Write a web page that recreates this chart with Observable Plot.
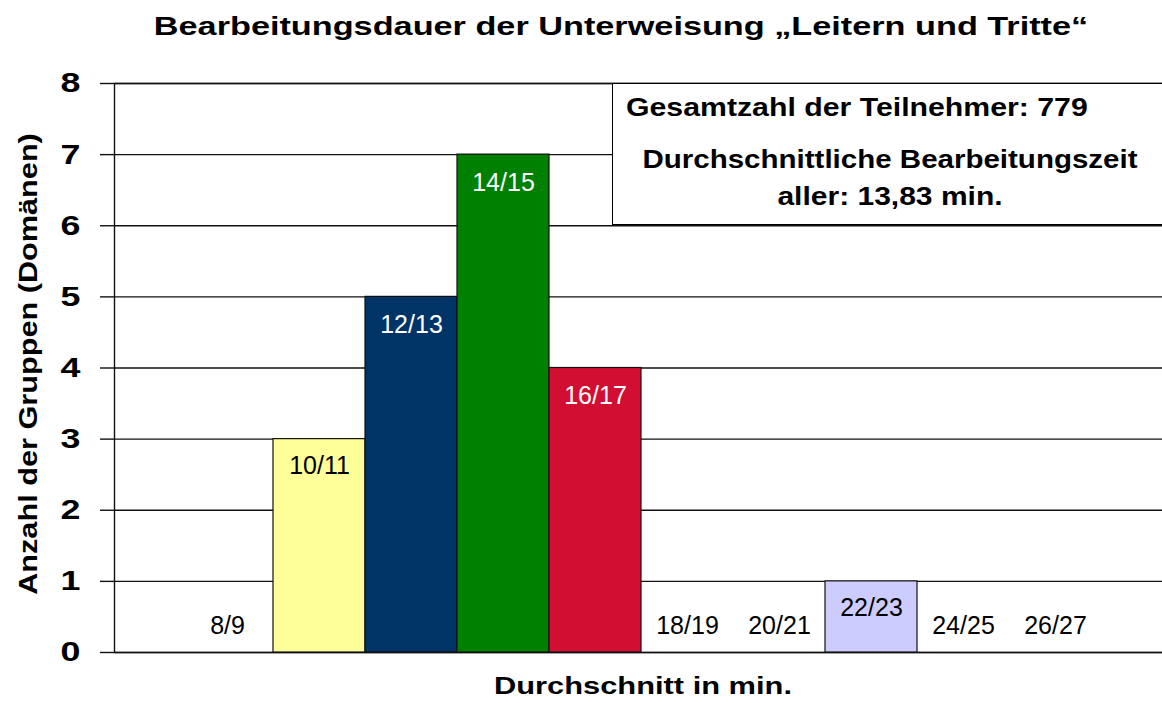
<!DOCTYPE html>
<html><head><meta charset="utf-8">
<script src="https://cdn.jsdelivr.net/npm/d3@7"></script>
<script src="https://cdn.jsdelivr.net/npm/@observablehq/plot@0.6"></script>
<style>
html,body{margin:0;padding:0;background:#fff;overflow:hidden;}
#wrap{position:relative;width:1162px;height:703px;overflow:hidden;font-family:"Liberation Sans",Arial,sans-serif;color:#000;background:#fff;}
.t{position:absolute;white-space:nowrap;line-height:1;font-weight:bold;color:#000;}
.c{transform-origin:center;}
#chart{position:absolute;left:0;top:48px;}
#box{position:absolute;left:612px;top:83px;width:600px;height:142px;border:1px solid #000;background:#fff;box-sizing:border-box;}
</style></head><body>
<div id="wrap">
  <span class="t c" id="title" style="left:621px;top:14px;font-size:25px;transform:translateX(-50%) scaleX(1.37);">Bearbeitungsdauer der Unterweisung „Leitern und Tritte“</span>
  <div id="chart"></div>
  <div id="box"></div>
  <span class="t" id="info1" style="left:626px;top:95px;font-size:25px;transform-origin:left center;transform:scaleX(1.21);">Gesamtzahl der Teilnehmer: 779</span>
  <span class="t c" id="info2" style="left:890px;top:147px;font-size:25px;transform:translateX(-50%) scaleX(1.18);">Durchschnittliche Bearbeitungszeit</span>
  <span class="t c" id="info3" style="left:890px;top:184px;font-size:25px;transform:translateX(-50%) scaleX(1.2);">aller: 13,83 min.</span>
  <span class="t c" id="xlabel" style="left:643px;top:675px;font-size:23px;transform:translateX(-50%) scaleX(1.34);">Durchschnitt in min.</span>
</div>
<script>
const categories = ["8/9","10/11","12/13","14/15","16/17","18/19","20/21","22/23","24/25","26/27"];
const counts = [0, 3, 5, 7, 4, 0, 0, 1, 0, 0];
const barColors = ["#ffffff","#ffff99","#003366","#008000","#d20f32","#ffffff","#ffffff","#ccccff","#ffffff","#ffffff"];
const whiteLabelCats = ["12/13","14/15","16/17"];
const yTicks = [0,1,2,3,4,5,6,7,8];
const yLabel = "Anzahl der Gruppen (Domänen)";

const rows = categories.map((c, i) => ({cat: c, n: counts[i]}));
const filled = rows.filter(d => d.n > 0);
const empty = rows.filter(d => d.n === 0);

const plot = Plot.plot({
  width: 1162,
  height: 624,
  marginTop: 35,
  marginBottom: 20,
  marginLeft: 114,
  marginRight: -2,
  style: {fontFamily: '"Liberation Sans", Arial, sans-serif', color: "black", background: "transparent"},
  x: {domain: categories, paddingInner: 0, paddingOuter: 0.7065, align: 0.515, axis: null},
  y: {domain: [0, 8]},
  color: {type: "ordinal", domain: categories, range: barColors},
  marks: [
    Plot.ruleY(yTicks, {stroke: "#111", strokeWidth: 1.4}),
    Plot.frame({stroke: "#111", strokeWidth: 1.4}),
    Plot.axisY(yTicks, {tickSize: 14, tickPadding: 20, tickFormat: d => String(d), fontSize: 28, fontWeight: "bold", label: null, stroke: "#111", strokeWidth: 1.4}),
    Plot.barY(filled, {x: "cat", y: "n", fill: "cat", stroke: "#111", strokeWidth: 1.2}),
    Plot.text(filled.filter(d => whiteLabelCats.includes(d.cat)), {x: "cat", y: "n", text: "cat", dy: 28, fontSize: 25, fill: "white"}),
    Plot.text(filled.filter(d => !whiteLabelCats.includes(d.cat)), {x: "cat", y: "n", text: "cat", dy: 27, fontSize: 25, fill: "black"}),
    Plot.text(empty, {x: "cat", y: "n", text: "cat", dy: -27, fontSize: 25, fill: "black"}),
    Plot.text([yLabel], {text: d => d, frameAnchor: "left", textAnchor: "middle", lineAnchor: "middle", rotate: -90, dx: -86, dy: -4, fontSize: 26, fontWeight: "bold", fill: "black"})
  ]
});

function scaleEl(t, s) {
  t.setAttribute("transform", (t.getAttribute("transform") || "") + ` scale(${s},1)`);
}
plot.querySelectorAll('g[aria-label="y-axis tick label"] text').forEach(t => scaleEl(t, 1.28));
plot.querySelectorAll('text').forEach(t => { if (t.textContent === yLabel) scaleEl(t, 1.18); });

document.getElementById("chart").appendChild(plot);
</script>
</body></html>
